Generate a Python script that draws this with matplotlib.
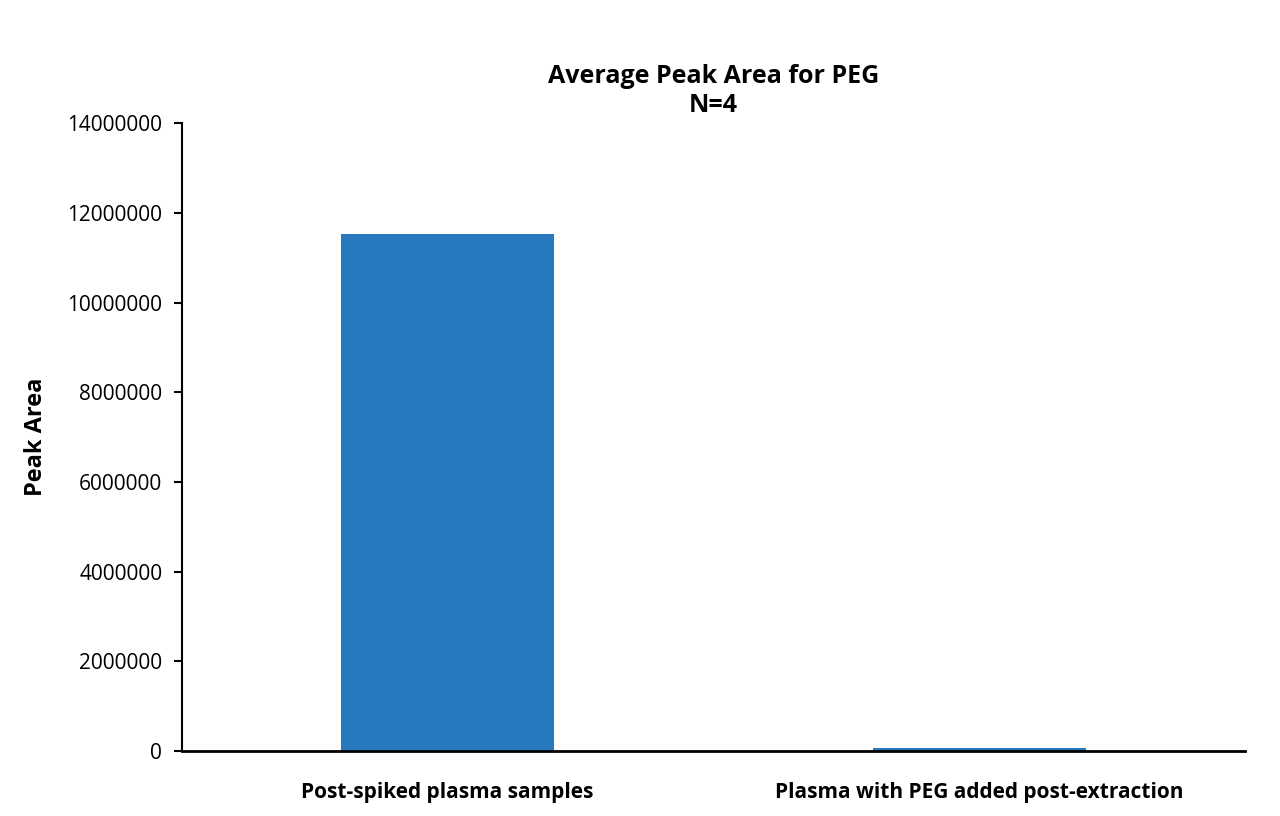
import matplotlib
matplotlib.use("Agg")
import matplotlib.pyplot as plt

categories = ["Post-spiked plasma samples", "Plasma with PEG added post-extraction"]
values = [11530000, 65000]
yticks = [0, 2000000, 4000000, 6000000, 8000000, 10000000, 12000000, 14000000]

plt.rcParams["font.family"] = "Open Sans"
fig = plt.figure(figsize=(12.8, 8.16), dpi=100)
ax = fig.add_axes([0.142, 0.0797, 0.831, 0.7693])
ax.bar(range(len(categories)), values, width=0.4, color="#2878BD")
ax.set_xlim(-0.5, 1.5)
ax.set_ylim(0, 14000000)
ax.set_yticks(yticks)
ax.set_yticklabels([str(v) for v in yticks], fontsize=15)
ax.set_xticks(range(len(categories)))
ax.set_xticklabels(categories, fontsize=15, fontweight="bold")
ax.tick_params(axis="x", length=0, pad=22)
ax.tick_params(axis="y", direction="out", length=6, width=1.5, pad=8)
for s in ["top", "right"]:
    ax.spines[s].set_visible(False)
ax.spines["left"].set_linewidth(1.5)
ax.spines["bottom"].set_linewidth(2)
ax.set_ylabel("Peak Area", fontsize=17, fontweight="bold", labelpad=14)
ax.set_title("Average Peak Area for PEG\nN=4", fontsize=18, fontweight="bold", pad=8)
fig.savefig("out.png")
